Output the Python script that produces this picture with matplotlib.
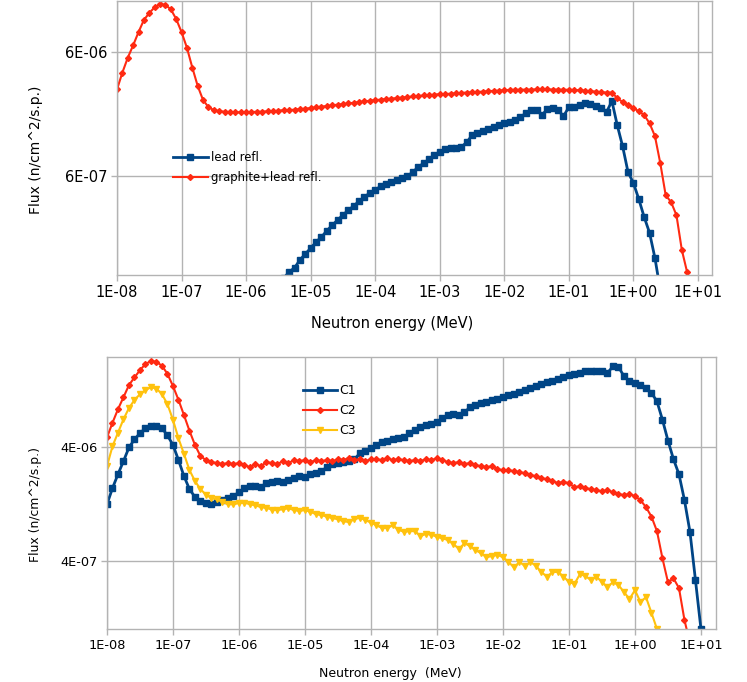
import numpy as np
import matplotlib
matplotlib.use('Agg')
import matplotlib.pyplot as plt

# energy group grid: 12 groups per decade starting at 1E-08 MeV
energy = 10.0 ** (np.arange(109) / 12.0 - 8.0)

# top panel
top_lead_start = 31
top_lead = [9.0e-8, 1.01e-7, 1.09e-7, 1.26e-7, 1.41e-7, 1.57e-7, 1.76e-7, 1.93e-7, 2.17e-7,
            2.40e-7, 2.65e-7, 2.90e-7, 3.19e-7, 3.43e-7, 3.77e-7, 4.06e-7, 4.38e-7, 4.63e-7,
            4.95e-7, 5.17e-7, 5.37e-7, 5.57e-7, 5.78e-7, 6.0e-7, 6.45e-7, 7.1e-7, 7.6e-7,
            8.2e-7, 8.9e-7, 9.4e-7, 9.9e-7, 1.01e-6, 1.01e-6, 1.03e-6, 1.12e-6, 1.28e-6,
            1.33e-6, 1.38e-6, 1.43e-6, 1.49e-6, 1.54e-6, 1.60e-6, 1.63e-6, 1.70e-6, 1.79e-6,
            1.93e-6, 2.04e-6, 2.04e-6, 1.86e-6, 2.08e-6, 2.12e-6, 2.04e-6, 1.82e-6, 2.16e-6,
            2.16e-6, 2.24e-6, 2.33e-6, 2.28e-6, 2.20e-6, 2.12e-6, 1.965e-6, 2.415e-6, 1.54e-6,
            1.04e-6, 6.45e-7, 5.27e-7, 3.91e-7, 2.8e-7, 2.09e-7, 1.31e-7, 7.2e-8]

top_graphite_start = 0
top_graphite = [3.0e-6, 4.1e-6, 5.4e-6, 6.8e-6, 8.7e-6, 1.09e-5, 1.24e-5, 1.38e-5, 1.46e-5,
                1.44e-5, 1.33e-5, 1.11e-5, 8.7e-6, 6.5e-6, 4.5e-6, 3.2e-6, 2.46e-6, 2.16e-6,
                2.04e-6, 2.00e-6, 1.98e-6, 1.97e-6, 1.96e-6, 1.96e-6, 1.96e-6, 1.97e-6, 1.98e-6,
                1.98e-6, 2.00e-6, 2.00e-6, 2.02e-6, 2.04e-6, 2.04e-6, 2.06e-6, 2.08e-6, 2.10e-6,
                2.12e-6, 2.15e-6, 2.18e-6, 2.20e-6, 2.23e-6, 2.26e-6, 2.28e-6, 2.31e-6, 2.34e-6,
                2.37e-6, 2.40e-6, 2.43e-6, 2.46e-6, 2.48e-6, 2.51e-6, 2.53e-6, 2.55e-6, 2.58e-6,
                2.60e-6, 2.63e-6, 2.65e-6, 2.68e-6, 2.70e-6, 2.72e-6, 2.75e-6, 2.75e-6, 2.77e-6,
                2.79e-6, 2.81e-6, 2.83e-6, 2.84e-6, 2.86e-6, 2.88e-6, 2.90e-6, 2.92e-6, 2.93e-6,
                2.96e-6, 2.97e-6, 2.98e-6, 2.98e-6, 2.99e-6, 2.99e-6, 3.00e-6, 3.00e-6, 3.00e-6,
                2.99e-6, 2.99e-6, 2.98e-6, 2.98e-6, 2.97e-6, 2.95e-6, 2.93e-6, 2.90e-6, 2.88e-6,
                2.85e-6, 2.83e-6, 2.83e-6, 2.55e-6, 2.37e-6, 2.24e-6, 2.12e-6, 2.00e-6, 1.86e-6,
                1.60e-6, 1.26e-6, 7.6e-7, 4.2e-7, 3.7e-7, 2.9e-7, 1.52e-7, 1.0e-7]

# bottom panel
c1_start = 0
c1 = [1.26e-6, 1.75e-6, 2.32e-6, 3.03e-6, 4.0e-6, 4.7e-6, 5.35e-6, 5.9e-6, 6.2e-6, 6.2e-6,
      5.9e-6, 5.1e-6, 4.2e-6, 3.09e-6, 2.23e-6, 1.71e-6, 1.46e-6, 1.34e-6, 1.30e-6, 1.27e-6,
      1.32e-6, 1.37e-6, 1.43e-6, 1.49e-6, 1.61e-6, 1.75e-6, 1.82e-6, 1.82e-6, 1.80e-6, 1.94e-6,
      2.0e-6, 2.04e-6, 2.0e-6, 2.06e-6, 2.14e-6, 2.23e-6, 2.2e-6, 2.32e-6, 2.40e-6, 2.47e-6,
      2.68e-6, 2.85e-6, 2.91e-6, 2.97e-6, 3.03e-6, 3.15e-6, 3.56e-6, 3.7e-6, 3.97e-6, 4.2e-6,
      4.5e-6, 4.6e-6, 4.7e-6, 4.8e-6, 4.9e-6, 5.35e-6, 5.7e-6, 6.0e-6, 6.3e-6, 6.5e-6,
      6.7e-6, 7.3e-6, 7.7e-6, 7.9e-6, 7.7e-6, 8.2e-6, 9.0e-6, 9.4e-6, 9.8e-6, 1.01e-5,
      1.05e-5, 1.08e-5, 1.12e-5, 1.16e-5, 1.19e-5, 1.24e-5, 1.28e-5, 1.34e-5, 1.39e-5, 1.45e-5,
      1.51e-5, 1.55e-5, 1.60e-5, 1.66e-5, 1.74e-5, 1.79e-5, 1.83e-5, 1.87e-5, 1.90e-5, 1.90e-5,
      1.88e-5, 1.82e-5, 2.07e-5, 2.05e-5, 1.70e-5, 1.53e-5, 1.48e-5, 1.43e-5, 1.34e-5, 1.21e-5,
      1.02e-5, 7.0e-6, 4.6e-6, 3.15e-6, 2.32e-6, 1.37e-6, 7.2e-7, 2.7e-7, 1.0e-7]

c2_start = 0
c2 = [4.9e-6, 6.6e-6, 8.7e-6, 1.11e-5, 1.42e-5, 1.66e-5, 1.92e-5, 2.18e-5, 2.31e-5, 2.27e-5,
      2.1e-5, 1.78e-5, 1.39e-5, 1.05e-5, 7.7e-6, 5.6e-6, 4.2e-6, 3.35e-6, 3.09e-6, 2.97e-6,
      2.91e-6, 2.85e-6, 2.91e-6, 2.85e-6, 2.91e-6, 2.79e-6, 2.68e-6, 2.85e-6, 2.73e-6, 2.97e-6,
      2.91e-6, 2.85e-6, 3.03e-6, 2.91e-6, 3.09e-6, 3.03e-6, 3.09e-6, 2.97e-6, 3.09e-6, 3.03e-6,
      3.09e-6, 3.03e-6, 3.15e-6, 3.09e-6, 3.22e-6, 3.09e-6, 3.15e-6, 3.03e-6, 3.15e-6, 3.15e-6,
      3.09e-6, 3.22e-6, 3.09e-6, 3.15e-6, 3.09e-6, 3.03e-6, 3.09e-6, 3.03e-6, 3.15e-6, 3.09e-6,
      3.22e-6, 3.09e-6, 2.97e-6, 2.91e-6, 2.97e-6, 2.85e-6, 2.91e-6, 2.79e-6, 2.73e-6, 2.68e-6,
      2.73e-6, 2.57e-6, 2.52e-6, 2.52e-6, 2.47e-6, 2.42e-6, 2.37e-6, 2.28e-6, 2.23e-6, 2.14e-6,
      2.10e-6, 2.02e-6, 1.94e-6, 1.98e-6, 1.94e-6, 1.78e-6, 1.82e-6, 1.75e-6, 1.71e-6, 1.68e-6,
      1.64e-6, 1.68e-6, 1.61e-6, 1.55e-6, 1.52e-6, 1.55e-6, 1.49e-6, 1.37e-6, 1.19e-6, 9.8e-7,
      7.3e-7, 4.2e-7, 2.59e-7, 2.8e-7, 2.3e-7, 1.2e-7, 7.5e-8]

c3_start = 0
c3 = [2.73e-6, 4.1e-6, 5.4e-6, 7.1e-6, 8.9e-6, 1.05e-5, 1.18e-5, 1.28e-5, 1.36e-5, 1.32e-5,
      1.18e-5, 9.6e-6, 7.0e-6, 4.8e-6, 3.5e-6, 2.52e-6, 2.02e-6, 1.71e-6, 1.53e-6, 1.43e-6,
      1.39e-6, 1.32e-6, 1.26e-6, 1.26e-6, 1.29e-6, 1.30e-6, 1.26e-6, 1.23e-6, 1.19e-6, 1.17e-6,
      1.13e-6, 1.12e-6, 1.14e-6, 1.16e-6, 1.12e-6, 1.10e-6, 1.12e-6, 1.08e-6, 1.03e-6, 1.01e-6,
      9.8e-7, 9.5e-7, 9.3e-7, 8.9e-7, 8.8e-7, 9.3e-7, 9.6e-7, 9.1e-7, 8.7e-7, 8.2e-7,
      7.8e-7, 7.8e-7, 8.2e-7, 7.5e-7, 7.2e-7, 7.3e-7, 7.3e-7, 6.6e-7, 6.9e-7, 6.8e-7,
      6.5e-7, 6.3e-7, 6.1e-7, 5.6e-7, 5.1e-7, 5.7e-7, 5.4e-7, 4.96e-7, 4.67e-7, 4.3e-7,
      4.4e-7, 4.5e-7, 4.3e-7, 3.9e-7, 3.5e-7, 3.9e-7, 3.6e-7, 3.9e-7, 3.6e-7, 3.17e-7,
      2.9e-7, 3.17e-7, 3.2e-7, 2.9e-7, 2.6e-7, 2.5e-7, 3.05e-7, 2.93e-7, 2.70e-7, 2.9e-7,
      2.59e-7, 2.35e-7, 2.59e-7, 2.44e-7, 2.12e-7, 1.84e-7, 2.2e-7, 1.73e-7, 1.91e-7, 1.39e-7,
      1.0e-7, 7.5e-8]

xticks = [1e-8, 1e-7, 1e-6, 1e-5, 1e-4, 1e-3, 1e-2, 1e-1, 1e0, 1e1]
xtick_labels = ['1E-08', '1E-07', '1E-06', '1E-05', '1E-04', '1E-03', '1E-02', '1E-01',
                '1E+00', '1E+01']
top_yticks = [6e-7, 6e-6]
top_ytick_labels = ['6E-07', '6E-06']
bot_yticks = [4e-7, 4e-6]
bot_ytick_labels = ['4E-07', '4E-06']

navy = '#004586'
red = '#ff2a12'
yellow = '#ffc20e'
gridc = '#b3b3b3'


def style(ax, yticks, ylabels, fs):
    ax.set_xscale('log')
    ax.set_yscale('log')
    ax.set_xticks(xticks)
    ax.set_xticklabels(xtick_labels)
    ax.set_yticks(yticks)
    ax.set_yticklabels(ylabels)
    ax.minorticks_off()
    ax.grid(True, color=gridc, linewidth=1.0)
    ax.set_axisbelow(True)
    for s in ax.spines.values():
        s.set_color(gridc)
        s.set_linewidth(1.0)
    ax.tick_params(axis='both', colors=gridc, labelcolor='black', length=4,
                   width=1.0, labelsize=fs, pad=3)


fig = plt.figure(figsize=(7.47, 6.82), dpi=100)

ax1 = fig.add_axes([117 / 747, 1 - 275 / 682, 595 / 747, 274 / 682])
e = energy[top_lead_start:top_lead_start + len(top_lead)]
ax1.plot(e, top_lead, color=navy, lw=2.0, marker='s', ms=4.2, label='lead refl.')
e = energy[top_graphite_start:top_graphite_start + len(top_graphite)]
ax1.plot(e, top_graphite, color=red, lw=1.5, marker='D', ms=3.0, label='graphite+lead refl.')
style(ax1, top_yticks, top_ytick_labels, 10.5)
ax1.set_xlim(1e-8, 16.5)
ax1.set_ylim(9.54e-8, 1.55e-5)
ax1.set_xlabel('Neutron energy (MeV)', fontsize=10.5)
ax1.xaxis.set_label_coords(0.462, -0.15)
ax1.set_ylabel('Flux (n/cm^2/s.p.)', fontsize=10)
ax1.yaxis.set_label_coords(-0.124, 0.456)
ax1.legend(loc='upper left', bbox_to_anchor=(0.094, 0.452), frameon=False, fontsize=8.4,
           handlelength=3.0, handletextpad=0.25, labelspacing=0.6, borderpad=0,
           borderaxespad=0)

ax2 = fig.add_axes([107 / 747, 1 - 629 / 682, 609 / 747, 272 / 682])
e = energy[c1_start:c1_start + len(c1)]
ax2.plot(e, c1, color=navy, lw=2.0, marker='s', ms=4.2, label='C1')
e = energy[c2_start:c2_start + len(c2)]
ax2.plot(e, c2, color=red, lw=1.5, marker='D', ms=3.0, label='C2')
e = energy[c3_start:c3_start + len(c3)]
ax2.plot(e, c3, color=yellow, lw=1.5, marker='v', ms=4.5, label='C3')
style(ax2, bot_yticks, bot_ytick_labels, 9.3)
ax2.set_xlim(1e-8, 16.9)
ax2.set_ylim(1.0e-7, 2.51e-5)
ax2.set_xlabel('Neutron energy  (MeV)', fontsize=9)
ax2.xaxis.set_label_coords(0.466, -0.14)
ax2.set_ylabel('Flux (n/cm^2/s.p.)', fontsize=8.9)
ax2.yaxis.set_label_coords(-0.107, 0.456)
ax2.legend(loc='upper left', bbox_to_anchor=(0.322, 0.90), frameon=False, fontsize=9,
           handlelength=2.7, handletextpad=0.2, labelspacing=0.55, borderpad=0,
           borderaxespad=0)

fig.savefig('out.png', dpi=100)
